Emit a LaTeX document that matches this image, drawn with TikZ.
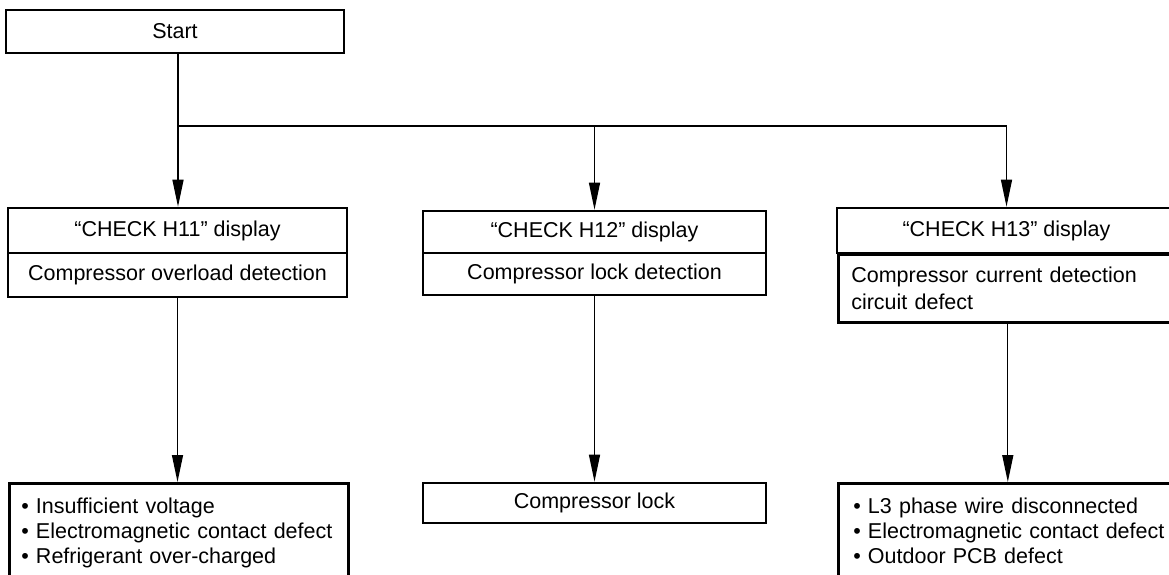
\documentclass[tikz,border=0pt]{standalone}
\usepackage{fontspec}
\setmainfont{Liberation Sans}
\usetikzlibrary{arrows.meta}
\begin{document}
\begin{tikzpicture}[x=1pt,y=-1pt,
  box/.style={draw, line width=2.6pt, minimum width=339pt, inner sep=0pt, font=\fontsize{21.5}{25}\selectfont},
  conn/.style={line width=1.3pt},
  arr/.style={line width=1.3pt, -{Triangle[length=27pt,width=11pt]}}]
\useasboundingbox (0,0) rectangle (1169,574);
\clip (0,0) rectangle (1169,574);
% top
\node[box, minimum width=338pt, minimum height=43pt] (start) at (175,31.5) {Start};
% column 1
\node[box, minimum height=45pt] (h11) at (177.5,230.5) {“CHECK H11” display};
\node[box, minimum height=44pt] (d11) at (177.5,275) {Compressor overload detection};
% column 2
\node[box, minimum width=343pt, minimum height=42pt] (h12) at (594.5,232) {“CHECK H12” display};
\node[box, minimum width=343pt, minimum height=42pt] (d12) at (594.5,274) {Compressor lock detection};
% column 3
\node[box, minimum height=45pt] (h13) at (1006.5,230.5) {“CHECK H13” display};
\node[box, anchor=north west, minimum height=68pt, align=left, text width=313pt, inner xsep=13pt, inner ysep=0pt, font=\fontsize{21.5}{27}\selectfont] (d13) at (837,253) {Compressor current detection\\circuit defect};
% results
\node[box, anchor=north west, align=left, text width=315pt, inner xsep=12pt, inner ysep=15pt] (r11) at (8,482) {• Insufficient voltage\\• Electromagnetic contact defect\\• Refrigerant over-charged};
\node[box, minimum width=343pt, minimum height=40pt] (r12) at (594.5,503) {Compressor lock};
\node[box, anchor=north west, align=left, text width=309pt, inner xsep=15pt, inner ysep=15pt] (r13) at (837,482) {\mbox{• L3 phase wire disconnected}\\\mbox{• Electromagnetic contact defect}\\\mbox{• Outdoor PCB defect}};
% connectors
\coordinate (j1) at (178,126);
\coordinate (j2) at (594.5,126);
\coordinate (j3) at (1006.5,126);
\draw[conn] (start.south -| j1) -- (j1) -- (j3);
\draw[arr] (j1) -- (h11.north -| j1);
\draw[arr] (j2) -- (h12.north);
\draw[arr] (j3) -- (h13.north);
\draw[arr] (d11.south) -- (r11.north -| d11.south);
\draw[arr] (d12.south) -- (r12.north);
\draw[arr] (d13.south) -- (r13.north -| d13.south);
\end{tikzpicture}
\end{document}
